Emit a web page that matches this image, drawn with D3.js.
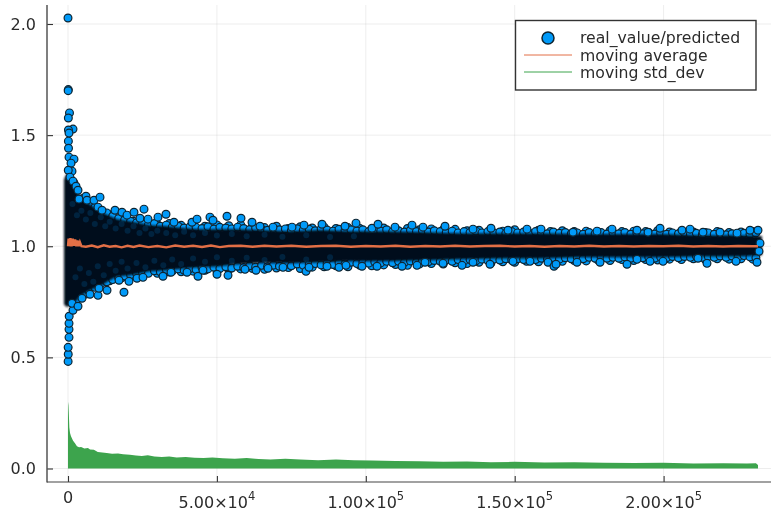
<!DOCTYPE html>
<html><head><meta charset="utf-8">
<script src="https://cdn.jsdelivr.net/npm/d3@7/dist/d3.min.js"></script>
<style>html,body{margin:0;padding:0;background:#fff}svg{display:block;filter:blur(0.45px)}text{font-family:"DejaVu Sans",sans-serif;fill:#2b2b2b}</style>
</head><body><svg id="c" width="771" height="513"><defs><filter id="soft" x="-5%" y="-20%" width="110%" height="140%"><feGaussianBlur stdDeviation="1"/></filter></defs></svg>
<script>
const xTickValues=[0,50000,100000,150000,200000];
const xTickMantissa=["0","5.00","1.00","1.50","2.00"];
const xTickExponent=["","4","5","5","5"];
const yTickValues=[0,0.5,1,1.5,2];
const legendLabels=["real_value/predicted","moving average","moving std_dev"];

// scattered points standing clear of the dense cloud
const upperX=[0,100,60,500,120,1680,150,340,130,170,340,2010,1010,1340,90,670,1680,2690,3360,6040,3690,6380,8730,10750,10070,11420,15780,18130,19810,22160,25520,24180,26860,30220,32910,35590,41640,43320,47680,48690,53390,58090,61790,64470,68840,75220,79250,85290,93020,96710,102080,104100,109810,115520,119210,126600,136000,142040,147750,154130,158830,169580,177640,182680,191070,194770,198800,206180,208870,213230,218940,224650,229010,231700,232370,232040,231360];
const upperY=[2.027,1.705,1.70,1.60,1.577,1.527,1.523,1.509,1.473,1.441,1.401,1.392,1.374,1.338,1.342,1.311,1.293,1.27,1.252,1.225,1.212,1.207,1.207,1.221,1.176,1.162,1.162,1.153,1.14,1.153,1.167,1.126,1.122,1.131,1.144,1.108,1.108,1.122,1.131,1.117,1.135,1.126,1.108,1.09,1.086,1.086,1.095,1.099,1.09,1.104,1.081,1.099,1.086,1.095,1.086,1.09,1.077,1.081,1.072,1.077,1.077,1.063,1.068,1.077,1.072,1.063,1.081,1.072,1.077,1.063,1.063,1.059,1.072,1.072,1.014,0.977,0.928];
const lowerX=[40,80,50,340,340,340,400,1680,1340,3360,4700,7390,10070,10410,13100,18800,17130,20480,23170,25180,31900,34590,39960,43650,45330,50030,53730,59440,63130,67160,72200,79920,80930,86970,91000,93350,98730,103760,112160,117190,119880,125930,132310,136000,141710,149430,155140,161180,163200,163870,170920,178650,187710,191070,195440,199800,211550,214570,224310];
const lowerY=[0.482,0.514,0.545,0.59,0.626,0.653,0.685,0.712,0.743,0.73,0.766,0.784,0.779,0.811,0.802,0.793,0.847,0.842,0.856,0.86,0.865,0.883,0.883,0.865,0.892,0.874,0.869,0.896,0.892,0.901,0.905,0.887,0.905,0.91,0.905,0.914,0.91,0.91,0.91,0.914,0.928,0.923,0.914,0.928,0.919,0.932,0.932,0.928,0.91,0.919,0.928,0.928,0.919,0.941,0.932,0.932,0.946,0.923,0.932];

// points along the rim of the dense cloud
const rimX=[3000,5000,7000,9000,11000,13000,15000,17000,19000,21000,23000,25000,27000,29000,31000,33000,35000,37000,39000,41000,43000,45000,47000,49000,51000,53000,55000,57000,59000,61000,63000,65000,67000,69000,71000,73000,75000,77000,79000,81000,83000,85000,87000,89000,91000,93000,95000,97000,99000,101000,103000,105000,107000,109000,111000,113000,115000,117000,119000,121000,123000,125000,127000,129000,131000,133000,135000,137000,139000,141000,143000,145000,147000,149000,151000,153000,155000,157000,159000,161000,163000,165000,167000,169000,171000,173000,175000,177000,179000,181000,183000,185000,187000,189000,191000,193000,195000,197000,199000,201000,203000,205000,207000,209000,211000,213000,215000,217000,219000,221000,223000,225000,227000,229000,231000];
const rimUpper=[1.255,1.215,1.19,1.175,1.155,1.15,1.135,1.125,1.118,1.112,1.105,1.1,1.096,1.102,1.09,1.095,1.086,1.09,1.082,1.088,1.085,1.08,1.088,1.077,1.085,1.082,1.078,1.086,1.08,1.075,1.082,1.076,1.072,1.08,1.074,1.078,1.07,1.079,1.072,1.076,1.07,1.078,1.073,1.068,1.076,1.07,1.074,1.068,1.074,1.066,1.072,1.068,1.074,1.066,1.07,1.064,1.072,1.066,1.07,1.064,1.07,1.066,1.062,1.068,1.06,1.066,1.062,1.068,1.06,1.066,1.06,1.064,1.058,1.066,1.06,1.064,1.058,1.066,1.06,1.056,1.064,1.058,1.062,1.056,1.06,1.054,1.062,1.056,1.062,1.055,1.06,1.056,1.062,1.054,1.06,1.056,1.062,1.055,1.06,1.054,1.06,1.056,1.062,1.054,1.058,1.052,1.06,1.054,1.058,1.052,1.056,1.05,1.058,1.054,1.06];
const rimLower=[0.76,0.785,0.80,0.815,0.83,0.84,0.85,0.858,0.866,0.872,0.878,0.884,0.878,0.89,0.885,0.895,0.888,0.898,0.892,0.9,0.895,0.904,0.898,0.906,0.9,0.908,0.902,0.91,0.904,0.912,0.906,0.914,0.908,0.915,0.91,0.918,0.912,0.92,0.914,0.918,0.922,0.916,0.924,0.918,0.926,0.92,0.928,0.922,0.928,0.924,0.93,0.925,0.932,0.926,0.932,0.928,0.934,0.928,0.936,0.93,0.936,0.932,0.938,0.932,0.94,0.934,0.94,0.935,0.942,0.936,0.942,0.938,0.944,0.938,0.944,0.94,0.946,0.94,0.946,0.942,0.948,0.942,0.948,0.944,0.95,0.944,0.95,0.946,0.952,0.946,0.95,0.946,0.952,0.946,0.952,0.948,0.952,0.946,0.952,0.948,0.954,0.948,0.954,0.95,0.956,0.95,0.954,0.95,0.956,0.95,0.956,0.952,0.958,0.952,0.948];
// a second, sparser rim slightly further out
const rim2X=[2000,6000,10000,14000,18000,22000,26000,30000,34000,38000,42000,46000,50000,54000,58000,62000,66000,70000,74000,78000,82000,86000,90000,94000,98000,102000,106000,110000,114000,118000,122000,126000,130000,134000,138000,142000,146000,150000,154000,158000,162000,166000,170000,174000,178000,182000,186000,190000,194000,198000,202000,206000,210000,214000,218000,222000,226000,230000];
const rim2Upper=[1.285,1.205,1.168,1.142,1.128,1.112,1.108,1.098,1.102,1.094,1.098,1.09,1.096,1.092,1.096,1.088,1.084,1.09,1.08,1.088,1.082,1.086,1.08,1.084,1.08,1.078,1.082,1.076,1.08,1.074,1.078,1.074,1.076,1.07,1.072,1.074,1.068,1.074,1.068,1.072,1.066,1.07,1.066,1.068,1.064,1.07,1.066,1.068,1.066,1.07,1.064,1.068,1.064,1.062,1.066,1.062,1.064,1.066];
const rim2Lower=[0.745,0.785,0.82,0.845,0.858,0.868,0.88,0.878,0.884,0.885,0.888,0.892,0.89,0.894,0.898,0.9,0.896,0.902,0.904,0.9,0.906,0.908,0.912,0.908,0.914,0.912,0.916,0.918,0.914,0.92,0.922,0.92,0.926,0.922,0.928,0.924,0.93,0.928,0.932,0.93,0.934,0.932,0.936,0.934,0.938,0.936,0.94,0.936,0.94,0.938,0.942,0.94,0.944,0.94,0.944,0.942,0.944,0.942];

// outline of the fully overplotted (solid dark) core of the scatter
const coreX=[-1340,-340,1010,2350,4030,6040,8060,10750,13430,16450,20820,24180,27540,32570,38620,44330,50030,56080,64470,74550,84620,94700,104770,118200,131630,145060,158500,171930,185360,198770,212230,225660,233050];
const coreTop=[1.302,1.329,1.302,1.262,1.23,1.203,1.181,1.158,1.14,1.122,1.113,1.104,1.095,1.091,1.082,1.077,1.077,1.077,1.073,1.068,1.073,1.068,1.068,1.064,1.059,1.059,1.059,1.055,1.055,1.055,1.05,1.05,1.046];
const coreBottom=[0.738,0.725,0.738,0.747,0.774,0.792,0.806,0.819,0.842,0.864,0.869,0.878,0.887,0.891,0.9,0.905,0.909,0.918,0.923,0.923,0.927,0.932,0.932,0.936,0.941,0.945,0.945,0.95,0.95,0.95,0.954,0.954,0.959];

// faint blue points still discernible inside the dark core
const specksX=[1500,3000,4500,6000,7500,9000,11000,12500,14000,16000,18000,20000,22000,24000,26000,28000,30000,33000,36000,39000,42000,46000,50000,55000,60000,66000,72000,80000,88000,96000,2500,4000,5500,7000,8500,10000,12000,14000,16000,18000,20000,23000,26000,29000,32000,35000,38000,42000,46000,50000,55000,60000,66000,72000,80000,88000];
const specksY=[1.19,1.14,1.16,1.12,1.15,1.1,1.13,1.09,1.11,1.08,1.1,1.07,1.09,1.06,1.08,1.055,1.07,1.06,1.05,1.065,1.05,1.06,1.048,1.055,1.045,1.052,1.043,1.05,1.042,1.045,0.86,0.9,0.83,0.88,0.84,0.91,0.87,0.92,0.89,0.93,0.9,0.925,0.905,0.935,0.915,0.94,0.92,0.945,0.93,0.95,0.935,0.948,0.938,0.952,0.94,0.95];

const maX=[0,200,400,800,1200,1600,2000,2400,2800,3200,3600,4000,4500,6000,8000,10000,12000,14000,16000,18000,20000,22000,24000,27000,30000,33000,36000,39000,42000,45000,48000,51000,54000,58000,62000,66000,70000,75000,80000,85000,90000,95000,100000,105000,110000,115000,120000,125000,130000,135000,140000,145000,150000,155000,160000,165000,170000,175000,180000,185000,190000,195000,200000,205000,210000,215000,220000,225000,230000,231700];
const maY=[1,1.035,1,1.036,1,1.034,1.002,1.03,1,1.026,1,1.018,1,0.998,1.003,0.996,1.004,0.998,1.001,0.995,1.002,0.997,1.003,0.996,1.001,0.995,1.003,0.998,1.002,0.997,1.003,0.996,1.001,1.002,0.998,1.002,0.999,1.002,0.998,1.001,1.002,0.998,1.001,0.999,1.002,0.998,1.001,0.999,1.002,0.999,1.001,1.002,0.999,1.001,0.998,1.001,0.999,1.002,0.999,1.001,0.999,1.001,1,1.002,0.999,1.001,0.999,1.001,1,1];

const stdX=[0,150,300,450,680,1000,1700,2400,3000,3700,4400,5500,6700,7400,8700,10000,11500,13000,14800,16800,18500,20800,22800,24800,26800,29000,31500,34000,36500,39500,42500,45500,48500,52000,56000,60000,64000,68000,73000,78000,84000,90000,96000,102000,110000,118000,126000,134000,142000,150000,160000,170000,180000,190000,200000,210000,220000,228000,231000,231700];
const stdY=[0.3,0.285,0.24,0.185,0.16,0.145,0.125,0.112,0.1,0.096,0.097,0.09,0.092,0.085,0.084,0.074,0.072,0.07,0.066,0.068,0.064,0.062,0.059,0.056,0.06,0.054,0.052,0.054,0.05,0.052,0.048,0.047,0.05,0.046,0.044,0.047,0.043,0.04,0.044,0.04,0.037,0.041,0.037,0.036,0.034,0.033,0.03,0.032,0.028,0.03,0.027,0.028,0.026,0.025,0.026,0.023,0.024,0.023,0.024,0.016];

const x=d3.scaleLinear().domain([0,200000]).range([68,663.6]);
const y=d3.scaleLinear().domain([0,2]).range([468.5,24]);
const svg=d3.select("#c");
const plotL=47,plotB=482,plotT=5,plotR=771;
const blue="#009af9",orange="#e26f46",green="#3da44d",edge="#0f2430";

svg.append("g").selectAll("line").data(xTickValues).join("line")
 .attr("x1",d=>x(d)).attr("x2",d=>x(d)).attr("y1",plotT).attr("y2",plotB).attr("stroke","#000").attr("stroke-opacity",0.07);
svg.append("g").selectAll("line").data(yTickValues).join("line")
 .attr("x1",plotL).attr("x2",plotR).attr("y1",d=>y(d)).attr("y2",d=>y(d)).attr("stroke","#000").attr("stroke-opacity",0.07);

function dots(xs,ys){
 svg.append("g").selectAll("circle").data(xs).join("circle")
  .attr("cx",d=>x(d)).attr("cy",(d,i)=>y(ys[i])).attr("r",3.9)
  .attr("fill",blue).attr("stroke",edge).attr("stroke-width",1.2);
}
dots(rim2X,rim2Upper);
dots(rim2X,rim2Lower);
dots(rimX,rimUpper);
dots(rimX,rimLower);
const core=d3.area().x(d=>x(d)).y0((d,i)=>y(coreBottom[i])).y1((d,i)=>y(coreTop[i]));
svg.append("path").datum(coreX).attr("d",core).attr("fill","#03111a").attr("filter","url(#soft)");
svg.append("g").selectAll("circle").data(specksX).join("circle")
 .attr("cx",d=>x(d)).attr("cy",(d,i)=>y(specksY[i])).attr("r",3)
 .attr("fill",blue).attr("fill-opacity",0.16);
dots(upperX,upperY);
dots(lowerX,lowerY);

const ma=d3.line().x(d=>x(d)).y((d,i)=>y(maY[i]));
svg.append("path").datum(maX).attr("d",ma).attr("fill","none").attr("stroke",orange).attr("stroke-width",2.4);
const std=d3.area().x(d=>x(d)).y0(y(0)).y1((d,i)=>y(stdY[i]));
svg.append("path").datum(stdX).attr("d",std).attr("fill",green);

const ax=svg.append("g").attr("transform",`translate(0,${plotB})`)
 .call(d3.axisBottom(x).tickValues(xTickValues).tickSizeInner(-6).tickSizeOuter(0).tickFormat(""));
ax.select(".domain").remove();
ax.selectAll("line").attr("stroke","#333").attr("stroke-width",1.1);
const ay=svg.append("g").attr("transform",`translate(${plotL},0)`)
 .call(d3.axisLeft(y).tickValues(yTickValues).tickSizeInner(-6).tickSizeOuter(0).tickFormat(""));
ay.select(".domain").remove();
ay.selectAll("line").attr("stroke","#333").attr("stroke-width",1.1);
svg.append("line").attr("x1",plotL).attr("x2",plotL).attr("y1",plotT).attr("y2",plotB+0.5).attr("stroke","#555").attr("stroke-width",1.5);
svg.append("line").attr("x1",plotL).attr("x2",plotR).attr("y1",plotB).attr("y2",plotB).attr("stroke","#444").attr("stroke-width",1.2);

svg.append("g").selectAll("text").data(yTickValues).join("text")
 .attr("x",36).attr("y",d=>y(d)+5.8).attr("text-anchor","end").attr("font-size",16).text(d=>d.toFixed(1));
xTickValues.forEach((v,i)=>{
 const t=svg.append("text").attr("x",x(v)).attr("y",i?508:503).attr("text-anchor","middle").attr("font-size",16);
 t.append("tspan").text(xTickMantissa[i]+(i?"×10":""));
 if(i) t.append("tspan").attr("dy",-8).attr("font-size",11.5).text(xTickExponent[i]);
});

const lg=svg.append("g");
lg.append("rect").attr("x",515.5).attr("y",20.5).attr("width",240.5).attr("height",69.5).attr("fill","#fff").attr("stroke","#333").attr("stroke-width",1.4);
lg.append("circle").attr("cx",548).attr("cy",38).attr("r",6).attr("fill",blue).attr("stroke",edge).attr("stroke-width",1.5);
lg.append("line").attr("x1",524).attr("x2",572).attr("y1",55).attr("y2",55).attr("stroke",orange).attr("stroke-width",1);
lg.append("line").attr("x1",524).attr("x2",572).attr("y1",72).attr("y2",72).attr("stroke",green).attr("stroke-width",1);
[43,60.5,78.2].forEach((b,i)=>lg.append("text").attr("x",580).attr("y",b).attr("font-size",15.7).text(legendLabels[i]));
</script></body></html>
